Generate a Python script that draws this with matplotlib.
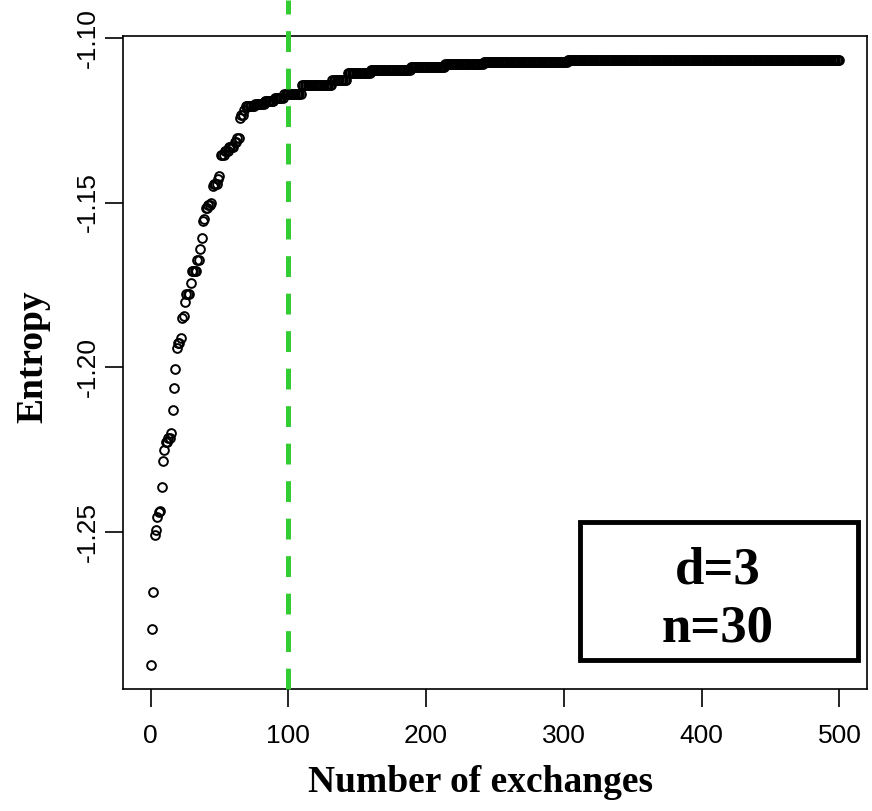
import numpy as np
import matplotlib.pyplot as plt

plt.rcParams['lines.scale_dashes'] = False

# entropy: value holds from each start until the next start
n_exchanges = 500
step_start = [0, 1, 2, 3, 4, 5, 6, 7, 8, 9, 10, 11, 13, 15, 16, 17, 18, 19, 20,
              22, 23, 24, 25, 26, 29, 30, 34, 36, 37, 38, 39, 40, 42, 44, 45,
              46, 49, 50, 51, 54, 57, 61, 63, 65, 66, 68, 69, 76, 83, 90, 97,
              110, 132, 143, 160, 189, 214, 242, 303]
step_value = [-1.2903, -1.2793, -1.2683, -1.2508, -1.2494, -1.2453, -1.2440,
              -1.2435, -1.2362, -1.2285, -1.2251, -1.2226, -1.2215, -1.2200,
              -1.2129, -1.2063, -1.2005, -1.1942, -1.1927, -1.1910, -1.1851,
              -1.1843, -1.1803, -1.1777, -1.1743, -1.1708, -1.1674, -1.1641,
              -1.1608, -1.1557, -1.1549, -1.1517, -1.1507, -1.1500, -1.1449,
              -1.1443, -1.1430, -1.1421, -1.1355, -1.1343, -1.1330, -1.1315,
              -1.1304, -1.1244, -1.1234, -1.1219, -1.1207, -1.1200, -1.1191,
              -1.1183, -1.1170, -1.1143, -1.1127, -1.1108, -1.1097, -1.1088,
              -1.1080, -1.1074, -1.1068]
cutoff = 100
x_ticks = [0, 100, 200, 300, 400, 500]
y_ticks = [-1.25, -1.20, -1.15, -1.10]
box_lines = ["d=3", "n=30"]

runs = np.diff(step_start + [n_exchanges + 1])
entropy = np.repeat(step_value, runs)
exchanges = np.arange(n_exchanges + 1)

W, H = 872, 811
fig = plt.figure(figsize=(W / 100, H / 100), dpi=100)
ax = fig.add_axes([123 / W, (H - 689) / H, (867 - 123) / W, (689 - 36) / H])

ax.plot(exchanges, entropy, 'o', mfc='none', mec='black', ms=6.3, mew=1.4)

xr = n_exchanges * 0.04
ax.set_xlim(-xr, n_exchanges + xr)
lo, hi = min(step_value), max(step_value)
yr = (hi - lo) * 0.04
ax.set_ylim(lo - yr, hi + yr)

ax.axvline(cutoff, ymin=0, ymax=689 / 653, color='#33cc33', lw=3.6,
           dashes=(15, 12), clip_on=False, zorder=3)

ax.set_xticks(x_ticks)
ax.set_yticks(y_ticks)
ax.set_xticklabels([str(v) for v in x_ticks], fontsize=19, family='Liberation Sans')
ax.set_yticklabels(['%.2f' % v for v in y_ticks], fontsize=19,
                   family='Liberation Sans', rotation=90, va='center')
ax.tick_params(length=13, width=1.2, direction='out')
ax.tick_params(axis='x', pad=12)
ax.tick_params(axis='y', pad=4)
for s in ax.spines.values():
    s.set_linewidth(1.2)

ax.set_xlabel('Number of exchanges', fontsize=27, fontweight='bold',
              family='Liberation Serif')
ax.set_ylabel('Entropy', fontsize=27, fontweight='bold',
              family='Liberation Serif')
ax.xaxis.set_label_coords((480 - 123) / (867 - 123), -(783 - 689) / (689 - 36))
ax.yaxis.set_label_coords(-(123 - 33) / (867 - 123), (689 - 357) / (689 - 36))
ax.xaxis.label.set_va('center')
ax.yaxis.label.set_va('center')

# label box in the lower right
box = plt.Rectangle((580 / W, (H - 660) / H), (858 - 580) / W, (660 - 522) / H,
                    transform=fig.transFigure, fill=False, ec='black', lw=3.5)
fig.add_artist(box)
fig.text(718 / W, 1 - 570 / H, box_lines[0], ha='center', va='center',
         fontsize=38, fontweight='bold', family='Liberation Serif')
fig.text(718 / W, 1 - 628 / H, box_lines[1], ha='center', va='center',
         fontsize=38, fontweight='bold', family='Liberation Serif')

fig.savefig('out.png', dpi=100)
